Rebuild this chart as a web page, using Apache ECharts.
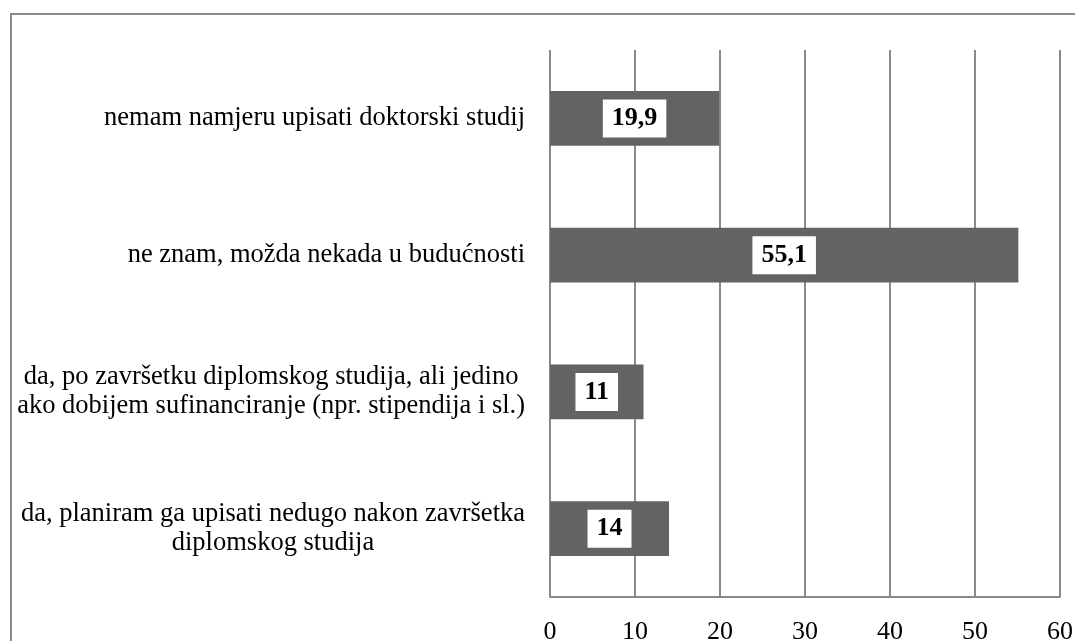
<!DOCTYPE html>
<html>
<head>
<meta charset="utf-8">
<script src="https://cdn.jsdelivr.net/npm/echarts@6/dist/echarts.min.js"></script>
<style>
  html, body { margin: 0; padding: 0; background: #fff; }
  #main { width: 1075px; height: 641px; }
</style>
</head>
<body>
<div id="main"></div>
<script>
// categories bottom to top (ECharts category axis starts at bottom)
var categories = [
    'da, planiram ga upisati nedugo nakon završetka\ndiplomskog studija',
    'da, po završetku diplomskog studija, ali jedino\nako dobijem sufinanciranje (npr. stipendija i sl.)',
    'ne znam, možda nekada u budućnosti',
    'nemam namjeru upisati doktorski studij'
]
var values = [14, 11, 55.1, 19.9]
var valueLabels = ['14', '11', '55,1', '19,9']

var chart = echarts.init(document.getElementById('main'))

var option = {
    animation: false,
    backgroundColor: '#fff',
    textStyle: { fontFamily: 'Liberation Serif' },
    graphic: [
        {
            type: 'rect',
            shape: { x: 11, y: 14, width: 1080, height: 700 },
            style: { fill: 'none', stroke: '#8a8a8a', lineWidth: 2 },
            silent: true
        }
    ],
    grid: { left: 550, right: 15, top: 50, bottom: 44, outerBoundsMode: 'none', containLabel: false },
    xAxis: {
        type: 'value',
        min: 0,
        max: 60,
        interval: 10,
        axisLine: { show: true, lineStyle: { color: '#8a8a8a', width: 2 } },
        axisTick: { show: false },
        splitLine: { show: true, lineStyle: { color: '#8a8a8a', width: 2 } },
        axisLabel: { color: '#000', fontSize: 26, fontFamily: 'Liberation Serif', margin: 22 }
    },
    yAxis: {
        type: 'category',
        data: categories,
        axisLine: { show: false },
        axisTick: { show: false },
        splitLine: { show: false },
        axisLabel: {
            color: '#000',
            fontSize: 26.5,
            fontFamily: 'Liberation Serif',
            lineHeight: 29,
            align: 'right',
            margin: 25,
            // right-aligned block, lines centred within it
            formatter: function (v) {
                return v.split('\n').map(function (l) { return '{c|' + l + '}' }).join('\n')
            },
            rich: {
                c: { align: 'center', fontSize: 26.5, lineHeight: 29, fontFamily: 'Liberation Serif', color: '#000' }
            }
        }
    },
    series: [
        {
            type: 'bar',
            data: values,
            barWidth: '40%',
            itemStyle: { color: '#636363' },
            label: {
                show: true,
                position: 'inside',
                formatter: function (p) { return valueLabels[p.dataIndex] },
                color: '#000',
                fontSize: 26,
                fontWeight: 'bold',
                fontFamily: 'Liberation Serif',
                backgroundColor: '#fff',
                padding: [7, 9, 5, 9]
            }
        }
    ]
}
chart.setOption(option)
</script>
</body>
</html>
